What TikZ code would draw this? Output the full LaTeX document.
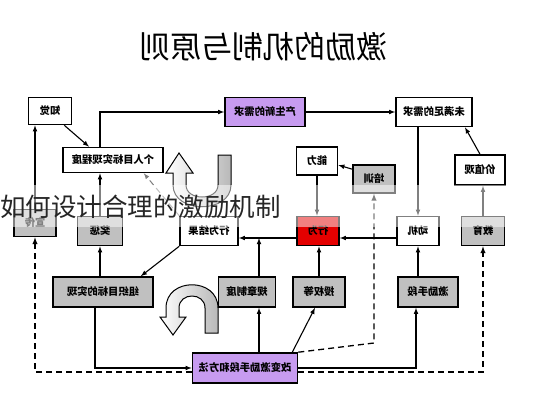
\documentclass[tikz,border=0pt]{standalone}
\usepackage{fontspec}
\setmainfont{Noto Sans CJK SC}
\usepackage{graphicx}
\newcommand{\fliptext}[1]{\reflectbox{#1}}
\definecolor{boxpurple}{RGB}{199,155,240}
\definecolor{boxred}{RGB}{228,0,0}
\definecolor{boxgray}{RGB}{192,192,192}
\begin{document}
\begin{tikzpicture}[x=1pt, y=-1pt, >=latex,
  box/.style={draw, line width=1.6pt, minimum height=28pt, inner sep=2pt, font=\fontsize{10.3}{11}\selectfont\bfseries},
  wbox/.style={box, fill=white},
  gbox/.style={box, fill=boxgray},
  pbox/.style={box, fill=boxpurple},
  rbox/.style={box, fill=boxred},
  link/.style={line width=1.1pt, ->},
  dlink/.style={line width=1.3pt, dash pattern=on 6pt off 4pt, ->},
  curvearrow/.style={draw, line width=1pt, left color=white, right color=gray!55}]
\useasboundingbox (0,0) rectangle (533,400);
\fill[white] (0,0) rectangle (533,400);
% Title (printed mirrored)
\node[font=\fontsize{31}{33}\selectfont] (title) at (263,47) {\fliptext{激励的机制与原则}};
% Curved block arrows
\draw[curvearrow] (231,155) -- (231,185) .. controls (231,214) and (173,214) .. (173,185) -- (173,173) -- (166,173) -- (179,153) -- (193,173) -- (186,173) -- (186,185) .. controls (186,201) and (218,201) .. (218,185) -- (218,155) -- cycle;
\draw[curvearrow] (218,333) -- (218,308) .. controls (218,277) and (166,277) .. (166,308) -- (166,317) -- (160,317) -- (173,335) -- (186,317) -- (179,317) -- (179,308) .. controls (179,292) and (205,292) .. (205,308) -- (205,333) -- cycle;
% Top row
\node[wbox, minimum width=43pt, minimum height=27pt] (zhijue) at (50,111) {\fliptext{知觉}};
\node[pbox, minimum width=80pt, minimum height=29pt] (xinxuqiu) at (265,112) {\fliptext{产生新的需求}};
\node[wbox, minimum width=76pt, minimum height=29pt] (weimanzu) at (434,112) {\fliptext{未满足的需求}};
% Second row
\node[wbox, minimum width=100pt, minimum height=25pt] (geren) at (113,160) {\fliptext{个人目标实现程度}};
\node[wbox, minimum width=41pt] (nengli) at (317,161) {\fliptext{能力}};
\node[gbox, minimum width=42pt] (peixun) at (374,179) {\fliptext{培训}};
\node[wbox, minimum width=50pt, minimum height=30pt] (jiazhi) at (480,170) {\fliptext{价值观}};
% Middle row
\node[gbox, minimum width=42pt, minimum height=27pt] (xuanchuan) at (35,223) {\fliptext{宣传}};
\node[gbox, minimum width=45pt, minimum height=29pt] (jiangcheng) at (100,231) {\fliptext{奖惩}};
\node[wbox, minimum width=58pt, minimum height=29pt] (jieguo) at (209,231) {\fliptext{行为结果}};
\node[rbox, minimum width=42pt, minimum height=29pt] (xingwei) at (318,231) {\fliptext{行为}};
\node[wbox, minimum width=42pt, minimum height=29pt] (dongji) at (418,231) {\fliptext{动机}};
\node[gbox, minimum width=43pt, minimum height=29pt] (jiaoyu) at (483,231) {\fliptext{教育}};
% Bottom row
\node[gbox, minimum width=100pt, minimum height=30pt] (zuzhi) at (103,292) {\fliptext{组织目标的实现}};
\node[gbox, minimum width=57pt, minimum height=30pt] (guizhang) at (247,292) {\fliptext{规章制度}};
\node[gbox, minimum width=52pt, minimum height=30pt] (shouquan) at (319,292) {\fliptext{授权等}};
\node[gbox, minimum width=60pt, minimum height=30pt] (jilishouduan) at (428,292) {\fliptext{激励手段}};
\node[pbox, minimum width=105pt, minimum height=30pt] (gaibian) at (245,368) {\fliptext{改变激励手段和方法}};
% Helper points
\coordinate (mline) at ([yshift=-7pt]xingwei.west);
\coordinate (gzup) at ([xshift=12pt]guizhang.north);
\coordinate (dbend) at (372,343);
% Solid connectors
\draw[link] (xuanchuan.north) -- (xuanchuan.north |- zhijue.south);
\draw[link] ([xshift=-8pt]zhijue.south east) -- ([xshift=-24pt]geren.north);
\draw[link] (jiangcheng.north) -- (jiangcheng.north |- geren.south);
\draw[link] (jiangcheng.north |- geren.north) |- (xinxuqiu.west);
\draw[link] (xinxuqiu) -- (weimanzu);
\draw[link] (dongji.north |- weimanzu.south) -- (dongji.north);
\draw[link] (jiazhi.north) -- ([xshift=31pt]weimanzu.south);
\draw[link] (jiaoyu.north) -- (jiaoyu.north |- jiazhi.south);
\draw[link] ([yshift=-5pt]peixun.north west) -- ([yshift=-4pt]nengli.east);
\draw[link] (nengli.south) -- (nengli.south |- xingwei.north);
\draw[link] ([yshift=-7pt]dongji.west) -- ([yshift=-7pt]xingwei.east);
\draw[link] (mline) -- ([yshift=-7pt]jieguo.east);
\draw[link] (gzup) -- (gzup |- mline);
\draw[link] (shouquan.north) -- (shouquan.north |- xingwei.south);
\draw[link] (jilishouduan.north -| dongji.south) -- (dongji.south);
\draw[link] (jieguo.south west) -- ([xshift=-13pt]zuzhi.north east);
\draw[link] (zuzhi.north -| jiangcheng.south) -- (jiangcheng.south);
\draw[link] ([xshift=-8pt]zuzhi.south) |- (gaibian.west);
\draw[link] (gaibian.north -| gzup) -- (gzup |- guizhang.south);
\draw[link] ([xshift=-6pt]gaibian.north east) -- ([xshift=-4pt]shouquan.south);
\draw[link] (gaibian.east) -| ([xshift=-12pt]jilishouduan.south);
% Dashed connectors
\draw[dlink, gray, line width=1pt] (jieguo.north west) -- ([xshift=-20pt]geren.south east);
\draw[dlink] ([yshift=-4pt]gaibian.west) -| (xuanchuan.south);
\draw[dlink] ([yshift=-4pt]gaibian.east) -| (jiaoyu.south);
\draw[dlink] (gaibian.north east) -- (dbend -| peixun.south) -- (peixun.south);
% Faded band with overlaid caption
\fill[white, opacity=0.5] (0,185) rectangle (533,227);
\node[anchor=west, inner sep=0pt, font=\fontsize{25.5}{27}\selectfont, text=black!85] (caption) at (0,207) {如何设计合理的激励机制};
\end{tikzpicture}
\end{document}
